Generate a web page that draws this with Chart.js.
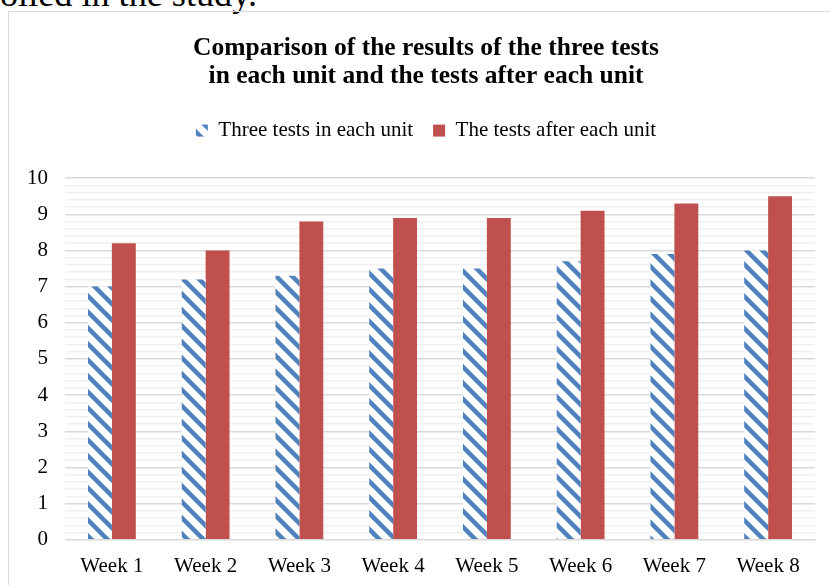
<!DOCTYPE html>
<html>
<head>
<meta charset="utf-8">
<script src="https://cdn.jsdelivr.net/npm/chart.js@4.4.1/dist/chart.umd.min.js"></script>
<style>
  html, body { margin: 0; padding: 0; background: #fff; overflow: hidden; }
  body { width: 830px; height: 585px; position: relative; overflow: hidden; }
  #pagetext { position: absolute; white-space: nowrap; font-family: "Liberation Serif", "Times New Roman", serif; color: #000; line-height: normal; }
  #frame { position: absolute; left: 8px; top: 11px; width: 900px; height: 700px; border: 1px solid #d9d9d9; box-sizing: border-box; }
  #wrap { position: absolute; left: 0; top: 0; width: 850px; height: 585px; }
</style>
</head>
<body>
<div id="pagetext">enrolled in the study.</div>
<div id="frame"></div>
<div id="wrap"><canvas id="c" width="850" height="585"></canvas></div>
<script>
const categories = ["Week 1", "Week 2", "Week 3", "Week 4", "Week 5", "Week 6", "Week 7", "Week 8"];
const threeTests = [7.0, 7.2, 7.3, 7.5, 7.5, 7.7, 7.9, 8.0];
const afterTests = [8.2, 8.0, 8.8, 8.9, 8.9, 9.1, 9.3, 9.5];
const seriesNames = ["Three tests in each unit", "The tests after each unit"];
const titleLines = ["Comparison of the results of the three tests", "in each unit and the tests after each unit"];

const SERIF = '"Liberation Serif", "Times New Roman", serif';

// Page text fragment above the chart, cut at the left edge
(function () {
  const el = document.getElementById('pagetext');
  const m = document.createElement('canvas').getContext('2d');
  m.font = '100px ' + SERIF;
  const visW = m.measureText('olled in the study.').width;
  const size = 257 / visW * 100;
  m.font = size + 'px ' + SERIF;
  const cut = m.measureText('enr').width;
  el.style.fontSize = size + 'px';
  el.style.left = (-cut) + 'px';
  el.style.top = (5 - 0.891 * size) + 'px';
})();

function makeStripe() {
  const s = 16;
  const p = document.createElement('canvas');
  p.width = s; p.height = s;
  const g = p.getContext('2d');
  g.fillStyle = '#ffffff';
  g.fillRect(0, 0, s, s);
  g.strokeStyle = '#4f81bd';
  g.lineWidth = 4.5;
  for (let c = -s; c <= s; c += s) {
    g.beginPath();
    g.moveTo(-2, c - 2);
    g.lineTo(s + 2, s + c + 2);
    g.stroke();
  }
  return document.getElementById('c').getContext('2d').createPattern(p, 'repeat');
}
const stripe = makeStripe();

const legendSpacer = {
  id: 'legendSpacer',
  beforeInit(chart) {
    const lg = chart.legend;
    const orig = lg.fit;
    lg.fit = function () {
      orig.call(this);
      this.height = 78;
    };
  }
};

new Chart(document.getElementById('c'), {
  type: 'bar',
  data: {
    labels: categories,
    datasets: [
      { label: seriesNames[0], data: threeTests, backgroundColor: stripe, borderWidth: 0 },
      { label: seriesNames[1], data: afterTests, backgroundColor: '#c0504d', borderWidth: 0 }
    ]
  },
  plugins: [legendSpacer],
  options: {
    responsive: false,
    animation: false,
    events: [],
    layout: { padding: { left: 13, right: 11, top: 0, bottom: 0 } },
    datasets: { bar: { categoryPercentage: 0.51, barPercentage: 1.0 } },
    plugins: {
      title: {
        display: true,
        text: titleLines,
        color: '#000',
        font: { family: SERIF, size: 25.5, weight: 'bold', lineHeight: 1.1 },
        padding: { top: 34, bottom: 10 }
      },
      legend: {
        display: true,
        labels: {
          color: '#000',
          font: { family: SERIF, size: 21 },
          boxWidth: 12, boxHeight: 12,
          padding: 20
        }
      },
      tooltip: { enabled: false }
    },
    scales: {
      x: {
        grid: { display: false },
        border: { display: true, color: '#d9d9d9', width: 1 },
        ticks: { color: '#000', font: { family: SERIF, size: 21 }, padding: 6 }
      },
      y: {
        min: 0, max: 10,
        afterFit: (scale) => { scale.width = 52; },
        grid: {
          drawTicks: false,
          color: (ctx) => {
            const v = ctx.tick ? ctx.tick.value : 0;
            return Math.abs(v - Math.round(v)) < 1e-6 ? '#d9d9d9' : '#f0f0f0';
          },
          lineWidth: 1.5
        },
        border: { display: false },
        ticks: {
          stepSize: 0.2,
          autoSkip: false,
          color: '#000',
          font: { family: SERIF, size: 21 },
          padding: 17,
          callback: (v) => Math.abs(v - Math.round(v)) < 1e-6 ? String(Math.round(v)) : ''
        }
      },
      yRight: {
        position: 'right',
        min: 0, max: 10,
        afterFit: (scale) => { scale.width = 24; },
        grid: { display: false, drawOnChartArea: false },
        border: { display: false },
        ticks: { display: false }
      }
    }
  }
});
</script>
</body>
</html>
